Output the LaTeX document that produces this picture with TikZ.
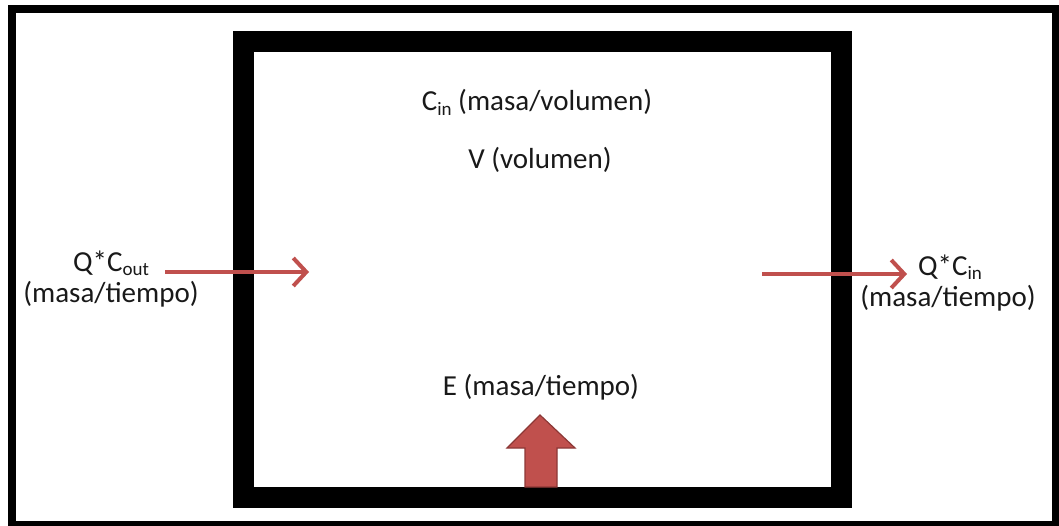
\documentclass[tikz,border=0pt]{standalone}
\usepackage{fontspec}
\setmainfont{Carlito}
\usetikzlibrary{arrows.meta}

\definecolor{flowred}{HTML}{C0504D}
\definecolor{flowredline}{HTML}{8C3836}

% lowered, smaller text for the concentration subscripts
\newcommand{\lowtext}[1]{\smash{\raisebox{-0.15em}{\fontsize{19}{19}\selectfont #1}}}

\tikzset{
  lbl/.style={anchor=base, inner sep=0pt, font=\fontsize{29}{31}\selectfont, text=black!90},
  flow/.style={draw=flowred, line width=4pt,
    -{Straight Barb[length=13pt, width=28pt, line width=4pt]}},
  wall/.style={draw=black, line width=21pt, line join=miter},
  frame/.style={draw=black, line width=8pt, line join=miter}
}

\begin{document}
\begin{tikzpicture}[x=1pt, y=-1pt]
  \useasboundingbox (0,0) rectangle (1059,526);
  \fill[white] (0,0) rectangle (1059,526);

  % outer border
  \draw[frame] (12,9) rectangle (1056,525);

  % control volume walls
  \draw[wall] (243.5,41.5) rectangle (841.5,497.5);

  % labels inside the volume
  \node[lbl] (cin) at (537,111) {C\lowtext{in} (masa/volumen)};
  \node[lbl] (vol) at (540,169) {V (volumen)};
  \node[lbl] (emis) at (541,395) {E (masa/tiempo)};

  % inflow and outflow labels (anchored at the baseline of the second line)
  \node[lbl, align=center] (qin) at (111,302) {Q*C\lowtext{out}\\(masa/tiempo)};
  \node[lbl, align=center] (qout) at (948,306) {\hspace*{4pt}Q*C\lowtext{in}\\(masa/tiempo)};

  % flow arrows
  \coordinate (inA) at (165,272);
  \coordinate (inB) at (309,272);
  \coordinate (outA) at (762,274);
  \coordinate (outB) at (907,274);
  \draw[flow] (inA) -- (inB);
  \draw[flow] (outA) -- (outB);

  % emission block arrow rising from the bottom wall
  \draw[fill=flowred, draw=flowredline, line width=1.2pt, line join=miter]
    (540,415) -- (575,448) -- (557,448) -- (557,487) -- (525,487)
    -- (525,448) -- (507,448) -- cycle;
\end{tikzpicture}
\end{document}
